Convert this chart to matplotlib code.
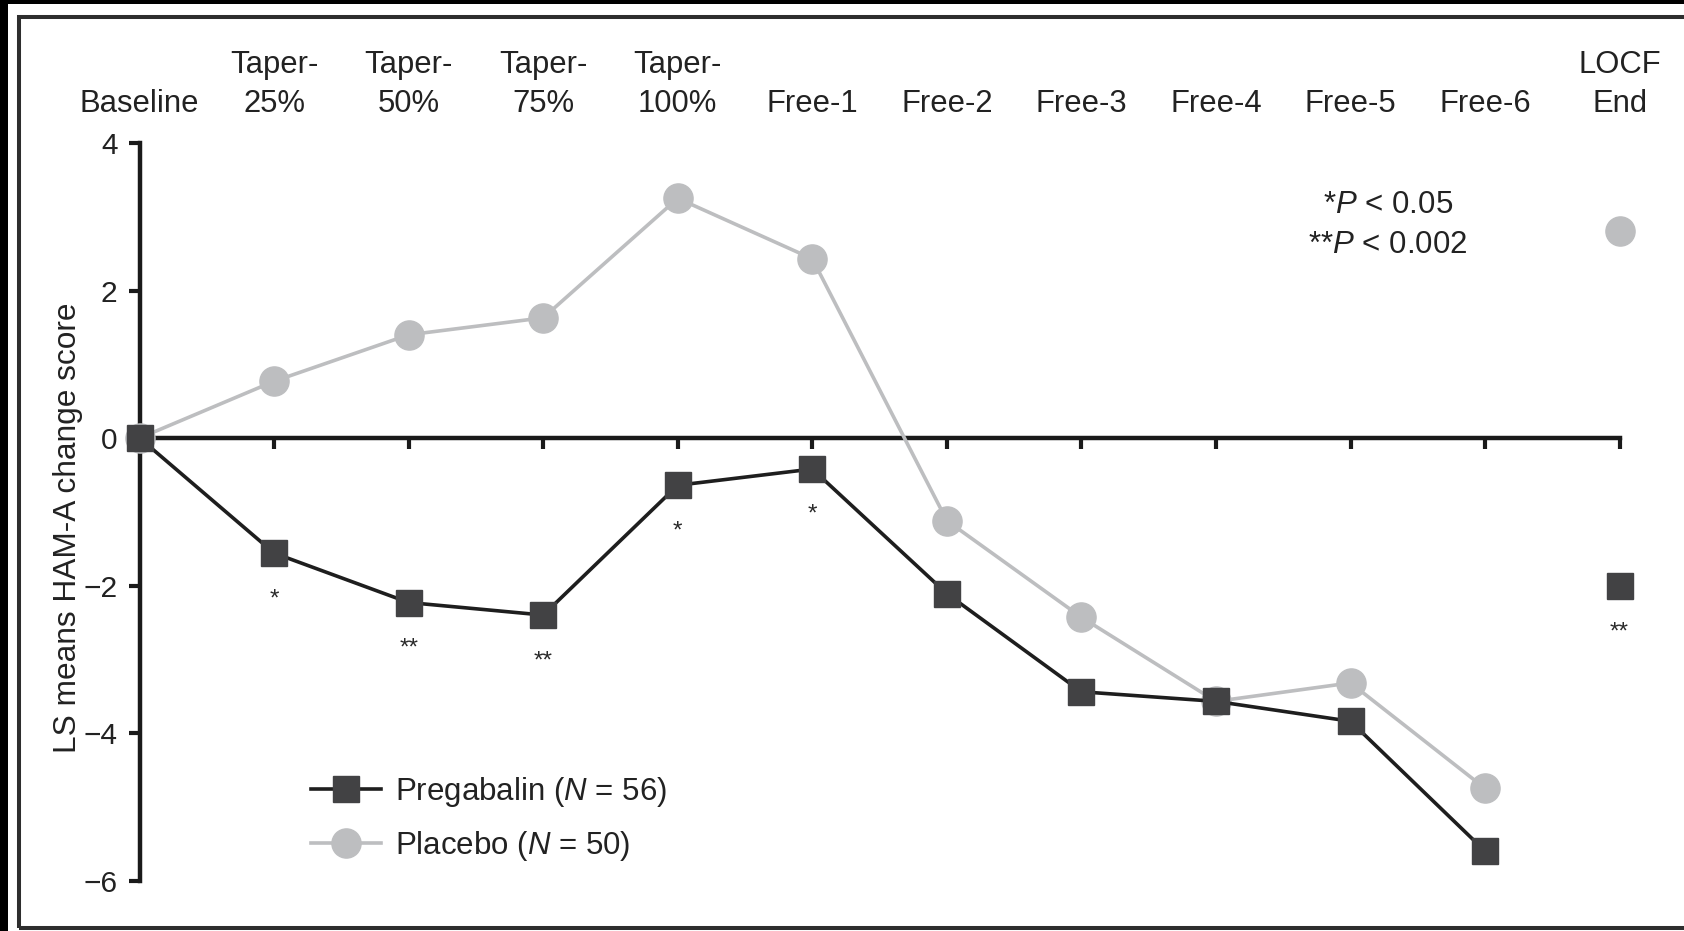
import matplotlib
matplotlib.use("Agg")
import matplotlib.pyplot as plt
from matplotlib.patches import Rectangle

plt.rcParams['font.family'] = ['Liberation Sans', 'DejaVu Sans']
plt.rcParams['mathtext.fontset'] = 'custom'
plt.rcParams['mathtext.rm'] = 'Liberation Sans'
plt.rcParams['mathtext.it'] = 'Liberation Sans:italic'

# ---- data ----
categories = ['Baseline', 'Taper-\n25%', 'Taper-\n50%', 'Taper-\n75%', 'Taper-\n100%',
              'Free-1', 'Free-2', 'Free-3', 'Free-4', 'Free-5', 'Free-6', 'LOCF\nEnd']
pregabalin = [0.0, -1.56, -2.23, -2.40, -0.64, -0.42, -2.11, -3.44, -3.57, -3.84, -5.60]
placebo = [0.0, 0.77, 1.40, 1.63, 3.25, 2.43, -1.12, -2.43, -3.57, -3.32, -4.75]
locf_pregabalin = -2.01
locf_placebo = 2.81
significance = ['', '*', '**', '**', '*', '*', '', '', '', '', '', '**']
y_ticks = [4, 2, 0, -2, -4, -6]
y_tick_labels = ['4', '2', '0', '\u22122', '\u22124', '\u22126']
legend_labels = ['Pregabalin ($\\it{N}$ = 56)', 'Placebo ($\\it{N}$ = 50)']
pvalue_note = '*$\\it{P}$ < 0.05\n**$\\it{P}$ < 0.002'

W, H = 1684, 931
fig = plt.figure(figsize=(W / 100, H / 100), dpi=100, facecolor='black')
# white page with black surround
fig.patches.append(Rectangle((8 / W, 0), 1, (H - 4) / H, transform=fig.transFigure,
                             facecolor='white', edgecolor='none', zorder=-10))
# thin frame
fig.patches.append(Rectangle((19.3 / W, 3.5 / H), 1.2, (H - 16.5 - 3.5) / H,
                             transform=fig.transFigure, facecolor='none',
                             edgecolor='#2e2e2e', linewidth=2.9, zorder=-9))

ax = fig.add_axes([139.6 / W, 1 - 880.6 / H, 1480 / W, (880.6 - 143) / H])
ax.set_facecolor('none')

n = len(categories)
xs = list(range(n))
dark_sq = '#424244'
line_dark = '#1e1e1e'
grey = '#bdbec0'

ax.plot(xs[:len(placebo)], placebo, color=grey, lw=2.6, marker='o', ms=21,
        mfc=grey, mec=grey, zorder=4, clip_on=False, label=legend_labels[1])
ax.plot(xs[:len(pregabalin)], pregabalin, color=line_dark, lw=2.6, marker='s', ms=19,
        mfc=dark_sq, mec=dark_sq, zorder=5, clip_on=False, label=legend_labels[0])
ax.plot([xs[-1]], [locf_placebo], ls='none', marker='o', ms=21, mfc=grey, mec=grey,
        zorder=4, clip_on=False)
ax.plot([xs[-1]], [locf_pregabalin], ls='none', marker='s', ms=19, mfc=dark_sq,
        mec=dark_sq, zorder=5, clip_on=False)

# significance stars
preg_all = pregabalin + [locf_pregabalin]
for i, s in enumerate(significance):
    if s:
        ax.annotate(s, xy=(xs[i], preg_all[i]), xytext=(0, -52), textcoords='offset pixels',
                    ha='center', va='baseline', fontsize=17.5, color='#2a2a2a')

ax.set_xlim(0, n - 1)
ax.set_ylim(-6, 4)
ax.set_yticks(y_ticks)
ax.set_yticklabels(y_tick_labels)
ax.set_xticks(xs)
ax.set_xticklabels(categories)

for side in ['top', 'right']:
    ax.spines[side].set_visible(False)
ax.spines['bottom'].set_position(('data', 0))
for side in ['left', 'bottom']:
    ax.spines[side].set_linewidth(3.2)
    ax.spines[side].set_color('#1a1a1a')

ax.tick_params(axis='x', which='major', direction='out', length=8, width=3, color='#1a1a1a',
               bottom=True, top=False, labelbottom=False, labeltop=True, pad=9.6,
               labelsize=22.3, labelcolor='#222222')
for lab in ax.get_xticklabels(which='major'):
    lab.set_linespacing(1.36)
ax.tick_params(axis='y', which='major', direction='out', length=8, width=3, color='#1a1a1a',
               pad=8, labelsize=21.5, labelcolor='#222222')

ax.set_ylabel('LS means HAM-A change score', fontsize=22.8, color='#222222')
ax.yaxis.set_label_coords(-0.0385, 0.478)

ax.text(9.28, 2.89, pvalue_note, ha='center', va='center', fontsize=22.5,
        color='#222222', linespacing=1.45)

handles, labels = ax.get_legend_handles_labels()
order = [1, 0]
leg = ax.legend([handles[i] for i in order], [labels[i] for i in order],
                loc='upper left', bbox_to_anchor=(0.1158, 0.143), frameon=False,
                fontsize=22.5, handlelength=2.25, handletextpad=0.45, labelspacing=0.64,
                borderpad=0, borderaxespad=0, numpoints=1)
for t in leg.get_texts():
    t.set_color('#222222')

fig.savefig('out.png', dpi=100, facecolor=fig.get_facecolor())
